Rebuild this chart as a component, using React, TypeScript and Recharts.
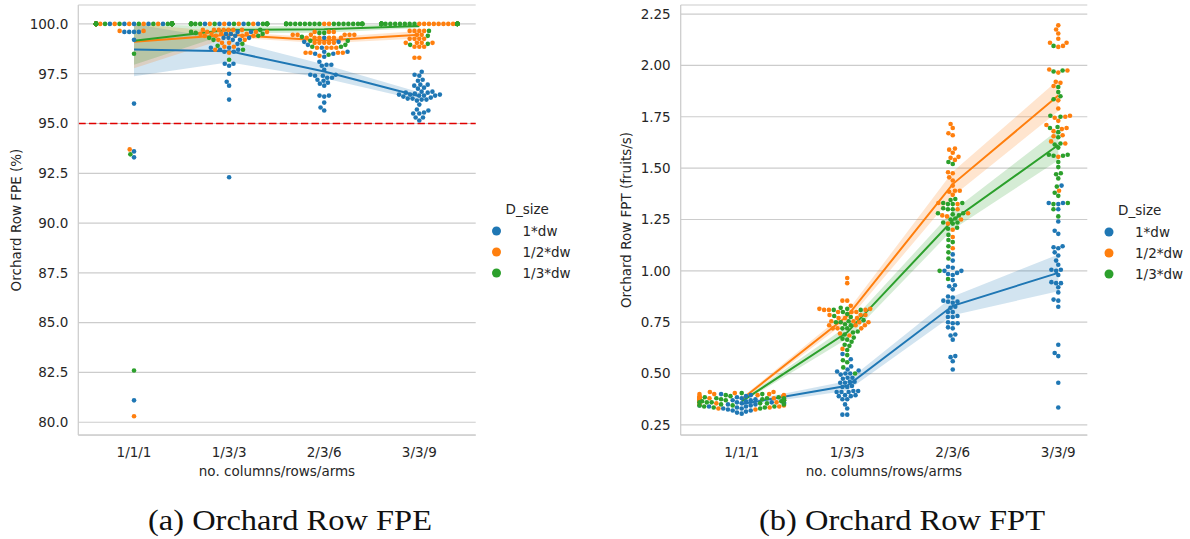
import React from "react";
import { ComposedChart, Scatter, Line, Area, XAxis, YAxis, CartesianGrid, ReferenceLine } from "recharts";

// categories on the x axis and the three hue levels
const CATEGORIES = ["1/1/1", "1/3/3", "2/3/6", "3/3/9"];
const HUES = ["1*dw", "1/2*dw", "1/3*dw"];
const COLORS = ["#1f77b4", "#ff7f0e", "#2ca02c"];

// (a) Orchard Row FPE (%), one list of runs per category
const FPE_1DW = [
  [100, 100, 100, 100, 100, 100, 100, 100, 100, 100, 100, 100, 100, 100, 100, 100, 100, 100, 100, 100, 100, 99.6, 99.6, 99.6, 99.6, 99.2, 96.0, 93.6, 93.3, 81.1],
  [100, 100, 100, 100, 100, 99.6, 99.6, 99.5, 99.5, 99.4, 99.3, 99.3, 99.3, 99.2, 99.2, 99.0, 98.8, 98.8, 98.7, 98.7, 98.6, 98.6, 98.0, 98.0, 97.9, 97.5, 97.1, 96.9, 96.2, 92.3],
  [99.3, 99.1, 99.1, 98.95, 98.8, 98.6, 98.6, 98.5, 98.5, 98.35, 98.1, 97.95, 97.95, 97.9, 97.7, 97.45, 97.45, 97.4, 97.4, 97.3, 97.3, 97.2, 97.15, 97.05, 97.0, 96.9, 96.4, 96.4, 96.35, 96.05, 95.8, 95.65],
  [97.6, 97.45, 97.4, 97.2, 97.15, 96.95, 96.95, 96.9, 96.8, 96.75, 96.6, 96.6, 96.55, 96.55, 96.5, 96.45, 96.45, 96.45, 96.4, 96.4, 96.4, 96.35, 96.3, 96.25, 96.25, 96.2, 96.2, 96.15, 95.95, 95.7, 95.65, 95.55, 95.5, 95.5, 95.3, 95.3, 95.15],
];
const FPE_HALF = [
  [100, 100, 100, 100, 100, 100, 100, 100, 100, 100, 100, 100, 100, 100, 100, 100, 100, 100, 100, 100, 100, 100, 100, 100, 100, 100, 99.65, 99.65, 93.7, 80.3],
  [100, 100, 100, 100, 99.7, 99.7, 99.7, 99.7, 99.7, 99.7, 99.7, 99.6, 99.6, 99.6, 99.5, 99.5, 99.5, 99.5, 99.4, 99.4, 99.4, 99.4, 99.2, 99.2, 99.05, 99.05, 98.85, 98.85, 98.7, 98.55],
  [100, 100, 99.6, 99.6, 99.6, 99.45, 99.45, 99.45, 99.45, 99.45, 99.45, 99.3, 99.3, 99.3, 99.3, 99.3, 99.3, 99.05, 99.05, 99.05, 99.05, 99.05, 98.8, 98.8, 98.8, 98.8, 98.55, 98.55, 98.55, 98.55, 98.4],
  [100, 100, 100, 100, 100, 100, 100, 100, 100, 100, 100, 99.65, 99.65, 99.65, 99.65, 99.45, 99.45, 99.25, 99.25, 99.25, 99.25, 99.05, 99.05, 99.05, 99.05, 98.85, 98.85, 98.85, 98.3, 98.3],
];
const FPE_THIRD = [
  [100, 100, 100, 100, 100, 100, 100, 100, 100, 100, 100, 100, 100, 100, 100, 100, 100, 100, 100, 100, 100, 100, 100, 100, 100, 100, 100, 98.5, 93.45, 82.6],
  [100, 100, 100, 100, 100, 100, 100, 100, 100, 100, 100, 100, 100, 100, 100, 100, 100, 100, 100, 99.7, 99.6, 99.55, 99.5, 99.4, 99.3, 99.2, 99.0, 98.9, 98.7, 98.2],
  [100, 100, 100, 100, 100, 100, 100, 100, 100, 100, 100, 100, 100, 100, 100, 100, 100, 100, 100, 100, 100, 99.55, 99.55, 99.35, 99.15, 99.15, 98.95, 98.85, 98.85, 98.45],
  [100, 100, 100, 100, 100, 100, 100, 100, 100, 100, 100, 100, 100, 100, 100, 100, 100, 100, 100, 100, 100, 100, 100, 100, 100, 100, 99.65, 99.4, 99.0, 98.95],
];

// (b) Orchard Row FPT (fruits/s)
const FPT_1DW = [
  [0.40, 0.395, 0.39, 0.385, 0.38, 0.375, 0.37, 0.37, 0.365, 0.36, 0.36, 0.355, 0.35, 0.35, 0.345, 0.34, 0.34, 0.335, 0.33, 0.33, 0.325, 0.32, 0.32, 0.315, 0.31, 0.305, 0.36, 0.37, 0.355, 0.345],
  [0.30, 0.30, 0.33, 0.35, 0.375, 0.375, 0.39, 0.39, 0.395, 0.395, 0.41, 0.41, 0.41, 0.415, 0.415, 0.435, 0.435, 0.44, 0.455, 0.455, 0.46, 0.46, 0.475, 0.48, 0.48, 0.495, 0.50, 0.50, 0.51, 0.515, 0.52, 0.535, 0.57, 0.595],
  [1.08, 1.05, 1.02, 1.015, 1.00, 1.00, 0.99, 0.985, 0.98, 0.955, 0.93, 0.925, 0.91, 0.875, 0.87, 0.855, 0.85, 0.85, 0.845, 0.825, 0.82, 0.80, 0.80, 0.78, 0.775, 0.775, 0.75, 0.745, 0.745, 0.725, 0.72, 0.69, 0.685, 0.665, 0.585, 0.58, 0.56, 0.52],
  [1.415, 1.33, 1.33, 1.325, 1.30, 1.24, 1.195, 1.18, 1.12, 1.115, 1.11, 1.09, 1.075, 1.05, 1.03, 1.005, 1.005, 1.0, 0.98, 0.945, 0.94, 0.94, 0.92, 0.895, 0.86, 0.855, 0.825, 0.64, 0.60, 0.585, 0.455, 0.335],
];
const FPT_HALF = [
  [0.41, 0.41, 0.405, 0.40, 0.40, 0.40, 0.395, 0.395, 0.39, 0.39, 0.39, 0.385, 0.385, 0.38, 0.38, 0.38, 0.375, 0.375, 0.37, 0.37, 0.365, 0.36, 0.36, 0.355, 0.35, 0.345, 0.34, 0.335, 0.33, 0.325],
  [0.965, 0.94, 0.855, 0.855, 0.83, 0.815, 0.815, 0.81, 0.81, 0.81, 0.80, 0.80, 0.80, 0.785, 0.785, 0.785, 0.77, 0.77, 0.77, 0.755, 0.755, 0.75, 0.75, 0.735, 0.735, 0.735, 0.72, 0.72, 0.72, 0.695, 0.685, 0.62],
  [1.715, 1.695, 1.67, 1.66, 1.595, 1.59, 1.575, 1.555, 1.55, 1.54, 1.48, 1.475, 1.455, 1.44, 1.415, 1.39, 1.39, 1.385, 1.37, 1.33, 1.325, 1.30, 1.28, 1.27, 1.265, 1.25, 1.23, 1.20, 1.165, 1.11],
  [2.195, 2.175, 2.155, 2.13, 2.11, 2.11, 2.095, 2.09, 1.98, 1.975, 1.965, 1.92, 1.915, 1.90, 1.83, 1.79, 1.755, 1.75, 1.745, 1.73, 1.71, 1.695, 1.69, 1.68, 1.66, 1.655, 1.63, 1.62, 1.555, 1.39],
];
const FPT_THIRD = [
  [0.405, 0.40, 0.395, 0.39, 0.385, 0.385, 0.38, 0.38, 0.375, 0.375, 0.37, 0.37, 0.365, 0.365, 0.36, 0.36, 0.355, 0.355, 0.35, 0.35, 0.345, 0.345, 0.34, 0.34, 0.335, 0.335, 0.33, 0.38, 0.37, 0.36],
  [0.82, 0.815, 0.81, 0.81, 0.80, 0.79, 0.78, 0.775, 0.76, 0.755, 0.75, 0.75, 0.74, 0.735, 0.72, 0.72, 0.705, 0.70, 0.69, 0.675, 0.67, 0.665, 0.655, 0.64, 0.635, 0.615, 0.59, 0.565, 0.555, 0.53, 0.50],
  [1.53, 1.52, 1.35, 1.345, 1.33, 1.33, 1.325, 1.325, 1.305, 1.30, 1.30, 1.28, 1.28, 1.275, 1.27, 1.255, 1.25, 1.235, 1.235, 1.23, 1.21, 1.205, 1.175, 1.15, 1.14, 1.12, 1.09, 1.06, 1.00, 0.96],
  [2.095, 1.975, 1.97, 1.895, 1.87, 1.85, 1.835, 1.755, 1.75, 1.70, 1.695, 1.675, 1.65, 1.62, 1.615, 1.60, 1.565, 1.565, 1.56, 1.56, 1.53, 1.505, 1.475, 1.47, 1.45, 1.41, 1.38, 1.365, 1.33, 1.325, 1.30, 1.265],
];

const FPE_TICKS = [80, 82.5, 85, 87.5, 90, 92.5, 95, 97.5, 100];
const FPT_TICKS = [0.25, 0.5, 0.75, 1.0, 1.25, 1.5, 1.75, 2.0, 2.25];
const FPE_LIMIT = 95;

const FONT = "'DejaVu Sans', sans-serif";
const INK = "#262626";
const GRID = "#cccccc";
const FIG_H = 539;
const PLOT_TOP = 5;
const PLOT_BOTTOM = 435;
const X_AXIS_H = 50;
const DOT_R = 2.3;

// seaborn-like beeswarm: place points in value order, nearest free slot to the midline
function beeswarm(ys: number[], r: number): number[] {
  const order = ys.map((_, i) => i).sort((a, b) => ys[a] - ys[b]);
  const placed: { x: number; y: number }[] = [];
  const out = new Array(ys.length).fill(0);
  const d = 2 * r;
  for (const i of order) {
    const y = ys[i];
    const near = placed.filter((p) => Math.abs(p.y - y) < d);
    const cands = [0];
    near.forEach((p) => {
      const dx = Math.sqrt(Math.max(d * d - (y - p.y) ** 2, 0)) * 1.05;
      cands.push(p.x - dx, p.x + dx);
    });
    cands.sort((a, b) => Math.abs(a) - Math.abs(b));
    const x = cands.find((c) => near.every((p) => (p.x - c) ** 2 + (p.y - y) ** 2 >= d * d - 1e-6)) ?? 0;
    placed.push({ x, y });
    out[i] = x;
  }
  return out;
}

function buildSwarm(series: number[][][], pxPerUnit: number, pxPerCat: number) {
  const out = series.map(() => [] as { x: number; y: number }[]);
  const gutter = 0.4 * pxPerCat;
  CATEGORIES.forEach((_, c) => {
    // runs in recorded order, hues interleaved
    const pts: { h: number; v: number }[] = [];
    const n = Math.max(...series.map((s) => s[c].length));
    for (let i = 0; i < n; i++) {
      series.forEach((s, h) => {
        if (i < s[c].length) pts.push({ h, v: s[c][i] });
      });
    }
    const offs = beeswarm(pts.map((p) => p.v * pxPerUnit), DOT_R);
    pts.forEach((p, i) => {
      const o = Math.max(-gutter, Math.min(gutter, offs[i]));
      out[p.h].push({ x: c + o / pxPerCat, y: p.v });
    });
  });
  return out;
}

// mean and ~95% interval per category
function buildLines(series: number[][][]) {
  return CATEGORIES.map((_, c) => {
    const row: any = { x: c };
    series.forEach((s, h) => {
      const v = s[c];
      const n = v.length;
      const m = v.reduce((a, b) => a + b, 0) / n;
      const sd = Math.sqrt(v.reduce((a, b) => a + (b - m) ** 2, 0) / (n - 1));
      const half = (1.96 * sd) / Math.sqrt(n);
      row[`m${h}`] = m;
      row[`b${h}`] = [Math.max(m - half, Math.min(...v)), Math.min(m + half, Math.max(...v))];
    });
    return row;
  });
}

interface PanelProps {
  width: number;
  plotLeft: number;
  plotRight: number;
  xDomain: [number, number];
  yDomain: [number, number];
  yTicks: number[];
  digits: number;
  series: number[][][];
  yTitle: string;
  yTitleX: number;
  refY?: number;
}

function SwarmPanel({ width, plotLeft, plotRight, xDomain, yDomain, yTicks, digits, series, yTitle, yTitleX, refY }: PanelProps) {
  const pxPerCat = (plotRight - plotLeft) / (xDomain[1] - xDomain[0]);
  const pxPerUnit = (PLOT_BOTTOM - PLOT_TOP) / (yDomain[1] - yDomain[0]);
  const swarm = buildSwarm(series, pxPerUnit, pxPerCat);
  const lines = buildLines(series);
  const tick = { fontSize: 13.5, fill: INK, fontFamily: FONT };
  const midY = (PLOT_TOP + PLOT_BOTTOM) / 2;

  return (
    <ComposedChart
      width={width}
      height={FIG_H}
      data={lines}
      margin={{ top: PLOT_TOP, right: width - plotRight, bottom: FIG_H - PLOT_BOTTOM - X_AXIS_H, left: 0 }}
    >
      <CartesianGrid vertical={false} stroke={GRID} strokeWidth={1.2} />
      <XAxis
        type="number"
        dataKey="x"
        domain={xDomain}
        ticks={[0, 1, 2, 3]}
        interval={0}
        allowDataOverflow
        tickFormatter={(v) => CATEGORIES[v]}
        height={X_AXIS_H}
        tickLine={false}
        tickSize={0}
        tickMargin={12}
        tick={tick}
        axisLine={{ stroke: GRID, strokeWidth: 1.25 }}
        label={{
          content: () => (
            <text x={(plotLeft + plotRight) / 2} y={476} textAnchor="middle" fontSize={13.5} fill={INK} fontFamily={FONT}>
              no. columns/rows/arms
            </text>
          ),
        }}
      />
      <YAxis
        type="number"
        domain={yDomain}
        ticks={yTicks}
        interval={0}
        allowDataOverflow
        width={plotLeft}
        tickFormatter={(v) => Number(v).toFixed(digits)}
        tickLine={false}
        tickSize={0}
        tickMargin={10}
        tick={tick}
        axisLine={{ stroke: GRID, strokeWidth: 1.25 }}
        label={{
          content: () => (
            <text
              x={yTitleX}
              y={midY}
              dy="0.35em"
              transform={`rotate(-90 ${yTitleX} ${midY})`}
              textAnchor="middle"
              fontSize={13.5}
              fill={INK}
              fontFamily={FONT}
            >
              {yTitle}
            </text>
          ),
        }}
      />
      {refY !== undefined && <ReferenceLine y={refY} stroke="#e00000" strokeWidth={1.4} strokeDasharray="7.4 3.2" />}
      {swarm.map((pts, h) => (
        <Scatter
          key={`s${h}`}
          data={pts}
          dataKey="y"
          isAnimationActive={false}
          shape={(p: any) => <circle cx={p.cx} cy={p.cy} r={DOT_R} fill={COLORS[h]} />}
        />
      ))}
      {HUES.map((_, h) => (
        <Area
          key={`a${h}`}
          type="linear"
          dataKey={`b${h}`}
          stroke="none"
          fill={COLORS[h]}
          fillOpacity={0.2}
          isAnimationActive={false}
        />
      ))}
      {HUES.map((_, h) => (
        <Line
          key={`l${h}`}
          type="linear"
          dataKey={`m${h}`}
          stroke={COLORS[h]}
          strokeWidth={2}
          dot={false}
          activeDot={false}
          isAnimationActive={false}
        />
      ))}
    </ComposedChart>
  );
}

function LegendBlock({ x, y }: { x: number; y: number }) {
  return (
    <g fontFamily={FONT} fontSize={13.5} fill={INK}>
      <text x={x + 9} y={y + 5}>D_size</text>
      {HUES.map((h, i) => (
        <g key={h}>
          <circle cx={x} cy={y + 22 + i * 21} r={4.5} fill={COLORS[i]} />
          <text x={x + 26} y={y + 22 + i * 21 + 5}>{h}</text>
        </g>
      ))}
    </g>
  );
}

export default function App() {
  return (
    <div style={{ position: "absolute", left: 0, top: 0, width: 1190, height: FIG_H, background: "#fff" }}>
      <div style={{ position: "absolute", left: 0, top: 0 }}>
        <SwarmPanel
          width={600}
          plotLeft={78.3}
          plotRight={475.7}
          xDomain={[-0.586, 3.593]}
          yDomain={[79.36, 100.95]}
          yTicks={FPE_TICKS}
          digits={1}
          series={[FPE_1DW, FPE_HALF, FPE_THIRD]}
          yTitle="Orchard Row FPE (%)"
          yTitleX={16}
          refY={FPE_LIMIT}
        />
      </div>
      <div style={{ position: "absolute", left: 600, top: 0 }}>
        <SwarmPanel
          width={590}
          plotLeft={80.7}
          plotRight={487.3}
          xDomain={[-0.578, 3.275]}
          yDomain={[0.201, 2.294]}
          yTicks={FPT_TICKS}
          digits={2}
          series={[FPT_1DW, FPT_HALF, FPT_THIRD]}
          yTitle="Orchard Row FPT (fruits/s)"
          yTitleX={26}
        />
      </div>
      <svg width={1190} height={FIG_H} style={{ position: "absolute", left: 0, top: 0, pointerEvents: "none" }}>
        <LegendBlock x={496.5} y={209} />
        <LegendBlock x={1109} y={210} />
        <g fontFamily="'Liberation Serif', 'DejaVu Serif', serif" fontSize={29} fill="#111">
          <text x={290} y={530} textAnchor="middle" textLength={284} lengthAdjust="spacingAndGlyphs">
            (a) Orchard Row FPE
          </text>
          <text x={902} y={530} textAnchor="middle" textLength={286} lengthAdjust="spacingAndGlyphs">
            (b) Orchard Row FPT
          </text>
        </g>
      </svg>
    </div>
  );
}
